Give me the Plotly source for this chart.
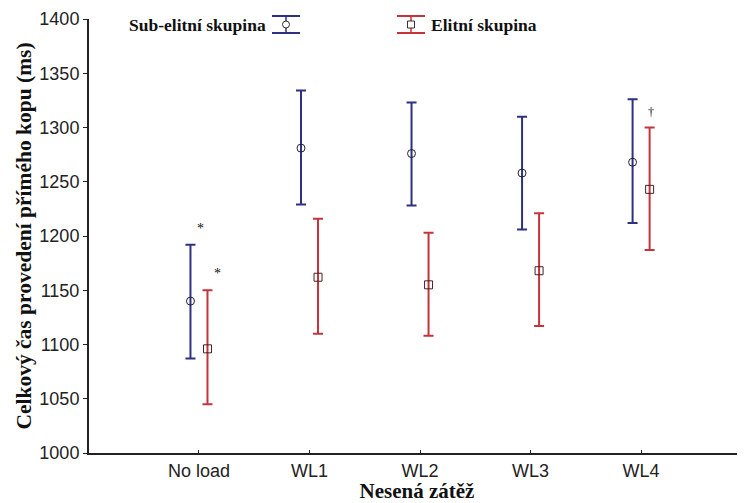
import plotly.graph_objects as go
import numpy as np

categories = ["No load", "WL1", "WL2", "WL3", "WL4"]

sub_mean = [1140, 1281, 1276, 1258, 1268]
sub_upper = [1192, 1334, 1323, 1310, 1326]
sub_lower = [1087, 1229, 1228, 1206, 1212]

eli_mean = [1096, 1162, 1155, 1168, 1243]
eli_upper = [1150, 1216, 1203, 1221, 1300]
eli_lower = [1045, 1110, 1108, 1117, 1187]

y_ticks = [1000, 1050, 1100, 1150, 1200, 1250, 1300, 1350, 1400]

BLUE = "#2e3182"
RED = "#c4343c"
SERIF = "Liberation Serif, Times New Roman, serif"
SANS = "Liberation Sans, Arial, sans-serif"

idx = np.arange(len(categories))
off = 0.077

def err(mean, up, lo):
    return dict(type="data", symmetric=False,
                array=[u - m for u, m in zip(up, mean)],
                arrayminus=[m - l for m, l in zip(mean, lo)])

fig = go.Figure()
e1 = err(sub_mean, sub_upper, sub_lower)
e1.update(color=BLUE, thickness=2, width=5)
fig.add_trace(go.Scatter(
    x=idx - off, y=sub_mean, mode="markers", name="Sub-elitní skupina",
    marker=dict(symbol="circle-open", size=8, color="#222233", line=dict(width=1)),
    error_y=e1, showlegend=False))
e2 = err(eli_mean, eli_upper, eli_lower)
e2.update(color=RED, thickness=2, width=5)
fig.add_trace(go.Scatter(
    x=idx + off, y=eli_mean, mode="markers", name="Elitní skupina",
    marker=dict(symbol="square-open", size=8, color="#442222", line=dict(width=1)),
    error_y=e2, showlegend=False))

# significance marks
fig.add_annotation(x=0.01, y=1207, text="*", showarrow=False,
                   font=dict(family=SERIF, size=14, color="#111"))
fig.add_annotation(x=0.17, y=1165, text="*", showarrow=False,
                   font=dict(family=SERIF, size=14, color="#111"))
fig.add_annotation(x=4.09, y=1314, text="†", showarrow=False,
                   font=dict(family=SERIF, size=12, color="#111"))

# page offset of default body margin
OFF = 8
FIG_W, FIG_H = 745 - OFF, 503 - OFF

# plot area in page pixels
L, W, T, H = 89, 656, 19, 434
def px(x):
    return (x - L) / W
def py(y):
    return (T + H - y) / H

fig.add_annotation(xref="paper", yref="paper", x=px(268), y=py(25),
                   xanchor="right", yanchor="middle", showarrow=False,
                   text="<b>Sub-elitní skupina</b>",
                   font=dict(family=SERIF, size=17.5, color="#111"))
fig.add_annotation(xref="paper", yref="paper", x=px(429), y=py(25),
                   xanchor="left", yanchor="middle", showarrow=False,
                   text="<b>Elitní skupina</b>",
                   font=dict(family=SERIF, size=17.5, color="#111"))

def legend_glyph(cx, color, kind):
    shapes = []
    for yy in (16, 33):
        shapes.append(dict(type="line", xref="paper", yref="paper",
                           x0=px(cx - 14), x1=px(cx + 14), y0=py(yy), y1=py(yy),
                           line=dict(color=color, width=2)))
    shapes.append(dict(type="line", xref="paper", yref="paper",
                       x0=px(cx), x1=px(cx), y0=py(16), y1=py(33),
                       line=dict(color=color, width=1.5)))
    shapes.append(dict(type="circle" if kind == "c" else "rect",
                       xref="paper", yref="paper",
                       x0=px(cx - 3.5), x1=px(cx + 3.5), y0=py(21), y1=py(28),
                       line=dict(color="#333", width=1), fillcolor="white"))
    return shapes

shapes = legend_glyph(286, BLUE, "c") + legend_glyph(411, RED, "s")

fig.update_layout(
    width=FIG_W, height=FIG_H,
    margin=dict(l=L - OFF, r=FIG_W - (L - OFF) - W, t=T - OFF, b=FIG_H - (T - OFF) - H),
    paper_bgcolor="white", plot_bgcolor="white",
    shapes=shapes,
    xaxis=dict(
        range=[-0.995, 4.94], tickmode="array", tickvals=list(idx), ticktext=categories,
        showline=True, linecolor="#222", linewidth=2, ticks="inside", ticklen=3,
        tickcolor="#222", showgrid=False, zeroline=False,
        tickfont=dict(family=SANS, size=18, color="#222"),
        title=dict(text="<b>Nesená zátěž</b>", standoff=4,
                   font=dict(family=SERIF, size=21, color="#111"))),
    yaxis=dict(
        range=[1000, 1400], tickmode="array", tickvals=y_ticks,
        showline=True, linecolor="#222", linewidth=2, ticks="outside", ticklen=4,
        tickcolor="#222", showgrid=False, zeroline=False,
        tickfont=dict(family=SANS, size=18, color="#222"),
        title=dict(text="<b>Celkový čas provedení přímého kopu (ms)</b>", standoff=2,
                   font=dict(family=SERIF, size=21.5, color="#111"))),
)

fig.write_html("out.html")
